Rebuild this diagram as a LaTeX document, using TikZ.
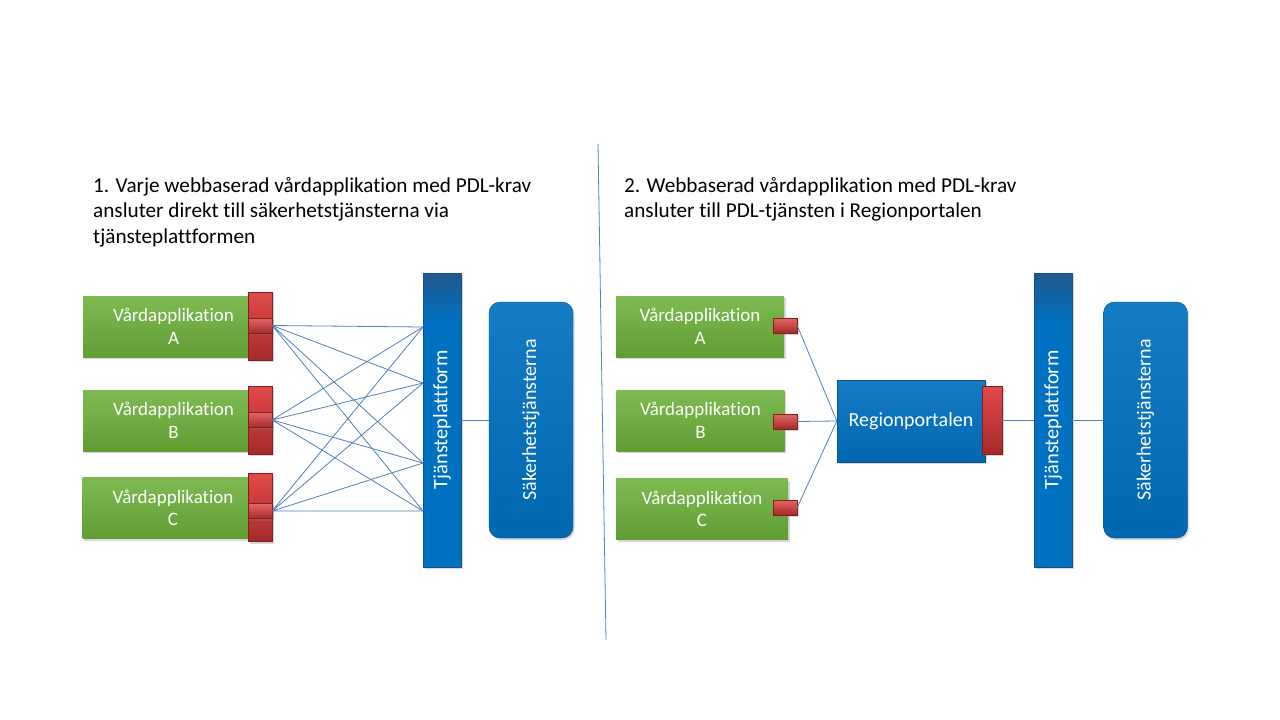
\documentclass[tikz,border=0pt]{standalone}
\usepackage{fontspec}
\setmainfont{Carlito}[Ligatures=NoCommon]
\usetikzlibrary{shadows}

\definecolor{appgreenlight}{RGB}{126,186,82}
\definecolor{appgreendark}{RGB}{96,158,52}
\definecolor{portredlight}{RGB}{226,74,74}
\definecolor{portreddark}{RGB}{165,42,42}
\definecolor{portedge}{RGB}{130,30,30}
\definecolor{platblue}{RGB}{0,112,192}
\definecolor{platbluedark}{RGB}{34,88,142}
\definecolor{platedge}{RGB}{20,80,135}
\definecolor{linkblue}{RGB}{79,129,189}

\pgfdeclareverticalshading{barshade}{100bp}{color(0bp)=(platblue); color(67bp)=(platblue); color(75bp)=(platbluedark); color(100bp)=(platbluedark)}

\tikzset{
  titletext/.style={anchor=north west, inner sep=0pt, align=left, font=\fontsize{21.2}{25.5}\selectfont},
  boxshadow/.style={drop shadow={opacity=0.3, shadow xshift=1.5pt, shadow yshift=-2pt}},
  app/.style={rectangle, minimum width=181pt, minimum height=61pt, top color=appgreenlight, bottom color=appgreendark, text=white, align=center, font=\fontsize{19}{22.5}\selectfont, boxshadow},
  port/.style={rectangle, minimum width=24pt, minimum height=68pt, inner sep=0pt, top color=portredlight, bottom color=portreddark, draw=portedge, line width=0.4pt, boxshadow},
  portband/.style={rectangle, minimum width=24pt, minimum height=15pt, inner sep=0pt, top color=portredlight!85!white, bottom color=portreddark, draw=portedge, line width=0.4pt, boxshadow},
  platform/.style={rectangle, minimum width=38pt, minimum height=294pt, inner sep=0pt, shading=barshade, draw=platedge, line width=0.4pt, text=white, font=\fontsize{20.5}{24}\selectfont, boxshadow},
  security/.style={rectangle, rounded corners=11pt, minimum width=84pt, minimum height=236pt, inner sep=0pt, top color=platblue!92!white, bottom color=platblue!92!black, draw=platedge, line width=0.4pt, text=white, font=\fontsize{20}{24}\selectfont, boxshadow},
  portal/.style={rectangle, minimum width=148pt, minimum height=82pt, top color=platblue!92!white, bottom color=platblue!92!black, draw=platedge, line width=0.4pt, text=white, font=\fontsize{20}{24}\selectfont, boxshadow},
  conn/.style={linkblue, line width=0.8pt}
}

\begin{document}
\begin{tikzpicture}[x=1pt,y=-1pt]
% Page
\fill[white] (0,0) rectangle (1280,720);
\useasboundingbox (0,0) rectangle (1280,720);

% Divider between the two cases
\draw[linkblue, line width=0.8pt] (598,144) -- (606,640);

% Headings
\node[titletext] (titleL) at (93,177) {1. Varje webbaserad vårdapplikation med PDL-krav\\ansluter direkt till säkerhetstjänsterna via\\tjänsteplattformen};
\node[titletext] (titleR) at (624,177) {2. Webbaserad vårdapplikation med PDL-krav\\ansluter till PDL-tjänsten i Regionportalen};

% ---- Case 1 ----
% Applications
\node[app] (appLA) at (173.5,326.5) {Vårdapplikation\\A};
\node[app] (appLB) at (173.5,420.5) {Vårdapplikation\\B};
\node[app] (appLC) at (173,508) {Vårdapplikation\\C};

% Connection points of the applications
\node[port] (portLA) at (260,326) {};
\node[portband] (bandLA) at (260,325.5) {};
\node[port] (portLB) at (260,420) {};
\node[portband] (bandLB) at (260,420) {};
\node[port] (portLC) at (260,507.5) {};
\node[portband] (bandLC) at (260,511) {};

% Platform and security services
\node[platform] (tpL) at (442,420) {\rotatebox{90}{Tjänsteplattform}};
\node[security] (sakL) at (531,420) {\rotatebox{90}{Säkerhetstjänsterna}};

\coordinate (tl1) at (423,327);
\coordinate (tl2) at (423,383);
\coordinate (tl3) at (423,463);
\coordinate (tl4) at (423,511);

% Every application to every point on the platform
\draw[conn] (bandLA.east) -- (tl1) (bandLA.east) -- (tl2) (bandLA.east) -- (tl3) (bandLA.east) -- (tl4);
\draw[conn] (bandLB.east) -- (tl1) (bandLB.east) -- (tl2) (bandLB.east) -- (tl3) (bandLB.east) -- (tl4);
\draw[conn] (bandLC.east) -- (tl1) (bandLC.east) -- (tl2) (bandLC.east) -- (tl3) (bandLC.east) -- (tl4);
\draw[conn] (tpL.east) -- (sakL.west);

% ---- Case 2 ----
% Applications
\node[app, minimum width=168pt] (appRA) at (700,326.5) {Vårdapplikation\\A};
\node[app, minimum width=168pt] (appRB) at (700.5,420.5) {Vårdapplikation\\B};
\node[app, minimum width=172pt] (appRC) at (702,509) {Vårdapplikation\\C};

% Connection points of the applications
\node[portband] (portRA) at (785,325.5) {};
\node[portband] (portRB) at (785,421.5) {};
\node[portband] (portRC) at (785,507.5) {};

% Regional portal
\node[portal] (portal) at (911,421) {Regionportalen};
\node[port, minimum width=20pt] (portalport) at (992,420) {};

% Platform and security services
\node[platform] (tpR) at (1053,420) {\rotatebox{90}{Tjänsteplattform}};
\node[security] (sakR) at (1145.5,420) {\rotatebox{90}{Säkerhetstjänsterna}};

\draw[conn] (portRA.east) -- (portal.west);
\draw[conn] (portRB.east) -- (portal.west);
\draw[conn] (portRC.east) -- (portal.west);
\draw[conn] (portalport.east) -- (tpR.west);
\draw[conn] (tpR.east) -- (sakR.west);

\end{tikzpicture}
\end{document}
